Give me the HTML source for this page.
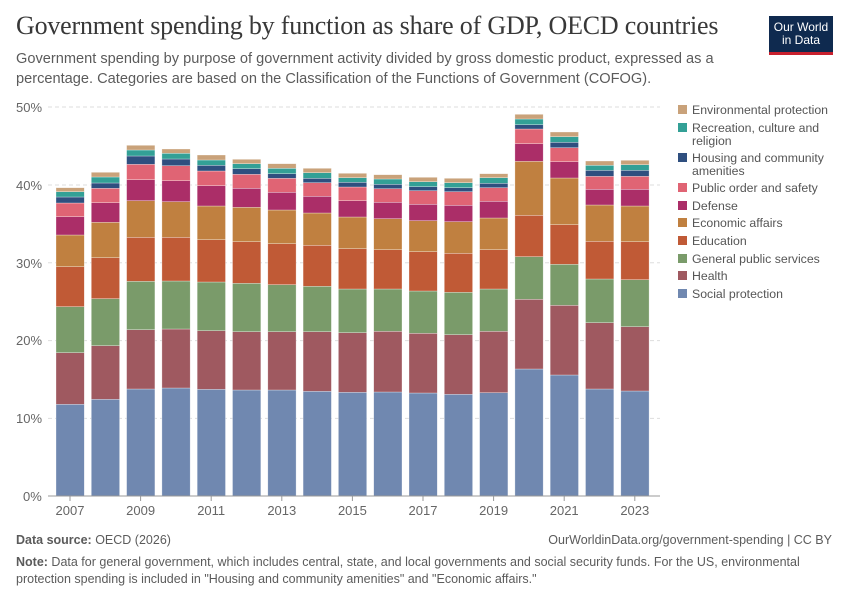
<!DOCTYPE html>
<html><head><meta charset="utf-8"><style>
body{margin:0;background:#fff;width:850px;height:600px;overflow:hidden;font-family:"Liberation Sans",sans-serif;}
.t{position:absolute;left:16px;top:11px;font-family:"Liberation Serif",serif;font-size:26px;color:#383838;letter-spacing:-0.2px;}
.s{position:absolute;left:16px;top:49px;font-size:14.6px;line-height:20px;color:#5b5b5b;width:740px;}
.logo{position:absolute;left:769px;top:16px;width:64px;height:36px;background:#0f2a4f;border-bottom:3px solid #c8202e;color:#fff;font-size:12px;line-height:13px;text-align:center;padding-top:0px;box-sizing:content-box}
.f{position:absolute;font-size:12.5px;color:#5b5b5b;}
</style></head><body>
<div class="t">Government spending by function as share of GDP, OECD countries</div>
<div class="s">Government spending by purpose of government activity divided by gross domestic product, expressed as a percentage. Categories are based on the Classification of the Functions of Government (COFOG).</div>
<div class="logo"><div style="padding-top:5px">Our World<br>in Data</div></div>
<svg id="c" width="850" height="600" style="position:absolute;left:0;top:0" xmlns="http://www.w3.org/2000/svg">
<g stroke="#ddd" stroke-dasharray="4,3">
<line x1="48" x2="660" y1="107" y2="107"/><line x1="48" x2="660" y1="185" y2="185"/><line x1="48" x2="660" y1="262.8" y2="262.8"/><line x1="48" x2="660" y1="340.6" y2="340.6"/><line x1="48" x2="660" y1="418.4" y2="418.4"/>
</g>
<g font-size="13" fill="#666" font-family="Liberation Sans, sans-serif">
<text x="16" y="112">50%</text><text x="16" y="190">40%</text><text x="16" y="268">30%</text><text x="16" y="345">20%</text><text x="16" y="423">10%</text><text x="23" y="501">0%</text>
</g>
<g id="bars"></g>
<line x1="48" x2="660" y1="496" y2="496" stroke="#999"/>
<g font-size="13" fill="#666" font-family="Liberation Sans, sans-serif" text-anchor="middle">
<text x="70" y="515">2007</text><text x="140.6" y="515">2009</text><text x="211.2" y="515">2011</text><text x="281.8" y="515">2013</text><text x="352.4" y="515">2015</text><text x="423" y="515">2017</text><text x="493.6" y="515">2019</text><text x="564.2" y="515">2021</text><text x="634.8" y="515">2023</text>
</g>
<g stroke="#999"><line x1="70" x2="70" y1="496" y2="501"/><line x1="140.6" x2="140.6" y1="496" y2="501"/><line x1="211.2" x2="211.2" y1="496" y2="501"/><line x1="281.8" x2="281.8" y1="496" y2="501"/><line x1="352.4" x2="352.4" y1="496" y2="501"/><line x1="423" x2="423" y1="496" y2="501"/><line x1="493.6" x2="493.6" y1="496" y2="501"/><line x1="564.2" x2="564.2" y1="496" y2="501"/><line x1="634.8" x2="634.8" y1="496" y2="501"/></g>
<g font-size="12.3" fill="#555" font-family="Liberation Sans, sans-serif">
<rect x="678" y="105" width="9" height="9" fill="#c9a27a"/><text x="692" y="114">Environmental protection</text>
<rect x="678" y="123" width="9" height="9" fill="#33a096"/><text x="692" y="132">Recreation, culture and</text><text x="692" y="145">religion</text>
<rect x="678" y="153" width="9" height="9" fill="#2f4f7f"/><text x="692" y="162">Housing and community</text><text x="692" y="175">amenities</text>
<rect x="678" y="183" width="9" height="9" fill="#e06474"/><text x="692" y="192">Public order and safety</text>
<rect x="678" y="201" width="9" height="9" fill="#ab2e68"/><text x="692" y="210">Defense</text>
<rect x="678" y="218" width="9" height="9" fill="#c08040"/><text x="692" y="227">Economic affairs</text>
<rect x="678" y="236" width="9" height="9" fill="#c05a36"/><text x="692" y="245">Education</text>
<rect x="678" y="254" width="9" height="9" fill="#7a9b6a"/><text x="692" y="263">General public services</text>
<rect x="678" y="271" width="9" height="9" fill="#9f5960"/><text x="692" y="280">Health</text>
<rect x="678" y="289" width="9" height="9" fill="#7088b0"/><text x="692" y="298">Social protection</text>
</g>
</svg>
<div class="f" style="left:16px;top:533px"><b>Data source:</b> OECD (2026)</div>
<div class="f" style="right:18px;top:533px">OurWorldinData.org/government-spending | CC BY</div>
<div class="f" style="left:16px;top:554px;width:820px;line-height:17px"><b>Note:</b> Data for general government, which includes central, state, and local governments and social security funds. For the US, environmental protection spending is included in "Housing and community amenities" and "Economic affairs."</div>
<script>
var cols=["#7088b0","#9f5960","#7a9b6a","#c05a36","#c08040","#ab2e68","#e06474","#2f4f7f","#33a096","#c9a27a"];
var d=[
[404.3,352.7,306.7,266.7,235,216.7,203,197,191.7,187.7],
[399.3,345.7,298.7,257.7,222.3,202.7,188.3,183,177,172.3],
[389,329.7,281.3,237.3,200.7,179.7,164.3,156,150,145.3],
[388,329,281,237.3,201.7,180.7,165.7,159,153.3,149],
[389.3,330.7,282,239.7,206,185.7,171,165.3,160,155],
[390,331.7,283.3,241.7,207.3,188.3,174.3,168.7,163.7,159.3],
[390,331.7,284.7,243.7,210,192.3,178.3,173.7,168.3,163.7],
[391.3,331.7,286.3,245.3,213,196.3,182.7,178.3,172.7,168.3],
[392.3,332.7,289,248.7,217,200.7,187,182.3,177.7,173.3],
[392,331.3,289,249.7,218.7,202.3,188.7,184.3,179,174.7],
[393,333.3,291,251.7,220.7,204.3,190.7,186.7,181.7,177.3],
[394.3,334.7,292.3,253.3,221.7,205.3,191.7,187.7,182.7,178.3],
[392.7,331.3,289,249.7,218,201.3,187.7,183.3,177.7,173.7],
[369,299.3,256.7,215.3,161.3,143.7,129,124.7,119,114.3],
[375,305.3,264.3,224.7,178,161.7,147.7,142.3,136.7,132],
[389,322.7,279,241.3,205,189.3,176.3,170.3,165.3,161],
[391,326.7,279.7,241.7,206,189.3,176.3,170.3,164.7,160.3]];
var s="";
for(var i=0;i<d.length;i++){var x=56+i*35.3,b=496;for(var k=0;k<10;k++){var t=d[i][k];s+='<rect x="'+x.toFixed(1)+'" y="'+t+'" width="28.3" height="'+(b-t).toFixed(2)+'" fill="'+cols[k]+'" stroke="#fff" stroke-opacity="0.5" stroke-width="0.6"/>';b=t;}}
document.getElementById("bars").innerHTML=s;
</script>
</body></html>
